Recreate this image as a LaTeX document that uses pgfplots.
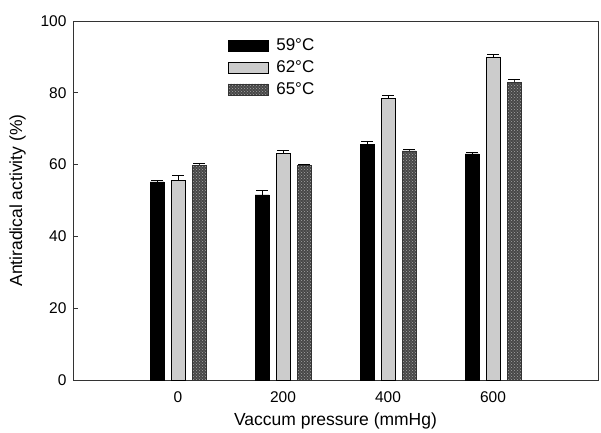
\documentclass[border=0pt]{standalone}
\usepackage{fontspec}
\setmainfont{Liberation Sans}
\usepackage{pgfplots}
\pgfplotsset{compat=1.18}
\usetikzlibrary{patterns}

% antiradical activity, mean and error per temperature
\begin{document}
\begin{tikzpicture}
\begin{axis}[
    scale only axis,
    width=525pt, height=359pt,
    xmin=-200, xmax=800,
    ymin=0, ymax=100,
    xtick={0,200,400,600},
    ytick={0,20,40,60,80,100},
    x tick style={draw=none},
    ytick pos=left,
    tick align=inside,
    major tick length=5pt,
    axis line style={black!80, line width=0.9pt},
    every tick/.style={black!80, line width=0.8pt},
    /pgf/number format/assume math mode=true,
    ticklabel style={font=\fontsize{15.5}{15.5}\selectfont},
    xticklabel style={yshift=-3pt},
    yticklabel style={xshift=-3pt},
    xlabel={Vaccum pressure (mmHg)},
    ylabel={Antiradical activity (\%)},
    label style={font=\fontsize{17.5}{17.5}\selectfont},
    xlabel style={yshift=-3pt},
    ylabel style={yshift=8pt},
    ybar, bar width=14pt,
    legend style={at={(0.289,0.962)}, anchor=north west, draw=none, fill=none,
        font=\fontsize{17}{17}\selectfont, row sep=4.5pt,
        nodes={inner sep=2pt}},
    legend cell align=left,
    legend image code/.code={\draw[#1, bar shift=0pt] (0pt,-5.5pt) rectangle (40pt,5.5pt);},
    error bars/y dir=plus, error bars/y explicit,
    error bars/error mark options={rotate=90, mark size=6pt, line width=0.8pt},
    error bars/error bar style={line width=0.8pt},
]
\addplot[fill=black, draw=black, bar shift=-21pt] coordinates
  {(0,55.2) +- (0,0.5) (200,51.6) +- (0,1.2) (400,65.6) +- (0,1.0) (600,63.0) +- (0,0.5)};
\addplot[fill=black!20, draw=black, bar shift=0pt] coordinates
  {(0,55.7) +- (0,1.2) (200,63.1) +- (0,0.8) (400,78.5) +- (0,0.7) (600,90.0) +- (0,0.8)};
\addplot[fill=black!72, draw=black!80, bar shift=21pt,
    postaction={pattern=crosshatch dots, pattern color=black!35}] coordinates
  {(0,59.8) +- (0,0.5) (200,59.8) +- (0,0.3) (400,63.8) +- (0,0.5) (600,83.0) +- (0,0.6)};
\legend{\hspace{6pt}59°C, \hspace{6pt}62°C, \hspace{6pt}65°C}
\end{axis}
\pgfresetboundingbox
\path[use as bounding box] (-73pt,-52pt) rectangle (528pt,380pt);
\end{tikzpicture}
\end{document}
